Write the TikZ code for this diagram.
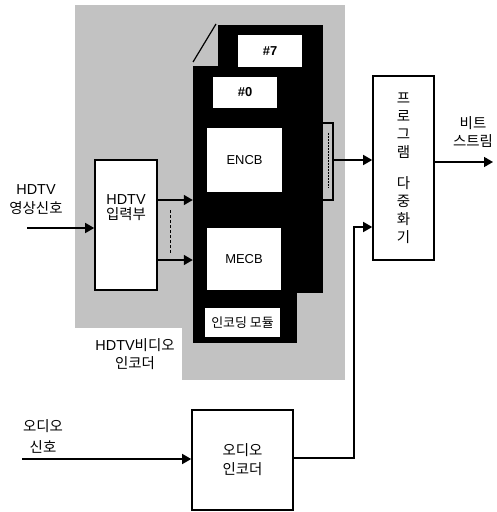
\documentclass[tikz,border=0pt]{standalone}
\usepackage{fontspec}
\setmainfont{Liberation Sans}
\newfontfamily\kr{Noto Sans CJK KR}
\newfontfamily\lat{Liberation Sans}
\usetikzlibrary{arrows.meta}
\tikzset{
  bx/.style={draw=black, line width=1.6bp, fill=white, inner sep=0pt, align=center, font=\kr\fontsize{14.5}{15}\selectfont},
  wbox/.style={fill=white, inner sep=0pt, align=center, font=\lat\fontsize{13}{15}\selectfont},
  card/.style={fill=black, inner sep=0pt},
  arr/.style={line width=1.5bp, -{Triangle[length=9bp,width=10bp]}},
  lbl/.style={inner sep=0pt, align=center, font=\kr\fontsize{14.5}{15}\selectfont},
}
\begin{document}
\begin{tikzpicture}[x=1bp,y=-1bp]
\useasboundingbox (0,0) rectangle (497,512);
% gray background of the HDTV video encoder
\fill[black!24] (75,5) rectangle (345,380);
\fill[white] (75,328) rectangle (182,380);
% stacked encoding cards
\node[card, minimum width=105bp, minimum height=268bp] (back) at (270.5,159) {};
\node[card, minimum width=104bp, minimum height=277bp] (front) at (245,204.5) {};
\draw[line width=1.2bp] (193,62) -- (216,24);
\node[wbox, minimum width=64bp, minimum height=32bp] (c7) at (270,51) {\textbf{\#7}};
\node[wbox, minimum width=64bp, minimum height=31bp] (c0) at (245,92.5) {\textbf{\#0}};
\node[wbox, minimum width=75bp, minimum height=64bp] (encb) at (244.5,160) {ENCB};
\node[wbox, minimum width=74bp, minimum height=62bp] (mecb) at (244,259) {MECB};
\node[wbox, minimum width=75bp, minimum height=29bp, font=\kr\fontsize{13}{15}\selectfont] (mod) at (242.5,322.5) {인코딩 모듈};
% side bracket
\node[draw=black, line width=1.4bp, fill=black!24, minimum width=11bp, minimum height=77bp, inner sep=0pt] (brk) at (327.5,161.5) {};
\draw[line width=0.8bp, dash pattern=on 2bp off 1bp] (328,133) -- (328,188);
% HDTV input unit
\node[bx, minimum width=62bp, minimum height=130bp] (inp) at (126,225) {{\lat HDTV}\\[1bp]입력부\\[21bp]~};
\draw[line width=0.8bp, dash pattern=on 3bp off 2bp] (170,210) -- (170,253);
% multiplexer
\node[bx, minimum width=61bp, minimum height=184bp] (mux) at (403.5,168)
  {프\\[3bp]로\\[3bp]그\\[3bp]램\\[16bp]다\\[3bp]중\\[3bp]화\\[3bp]기};
% audio encoder
\node[bx, minimum width=101bp, minimum height=100bp] (aenc) at (242.5,460) {오디오\\[4bp]인코더};
% labels
\node[lbl] (l1) at (135,354) {{\lat HDTV}비디오\\[3bp]인코더};
\node[lbl] (l2) at (36,200) {{\lat HDTV}\\[4bp]영상신호};
\node[lbl] (l3) at (473,132) {비트\\[3bp]스트림};
\node[lbl] (l4) at (43,436) {오디오\\[6bp]신호};
% connectors
\coordinate (hin) at (27,228);
\draw[arr] (hin) -- (hin -| inp.west);
\draw[arr] (inp.east |- 0,200) -- (front.west |- 0,200);
\draw[arr] (inp.east |- 0,260) -- (front.west |- 0,260);
\draw[arr] (brk.east |- 0,160) -- (mux.west |- 0,160);
\coordinate (ain) at (22,459);
\draw[arr] (ain) -- (ain -| aenc.west);
\coordinate (bend) at (354,458);
\draw[arr] (aenc.east |- bend) -- (bend) -- (bend |- 0,227) -- (mux.west |- 0,227);
\coordinate (bout) at (493,162);
\draw[arr] (mux.east |- bout) -- (bout);
\end{tikzpicture}
\end{document}
